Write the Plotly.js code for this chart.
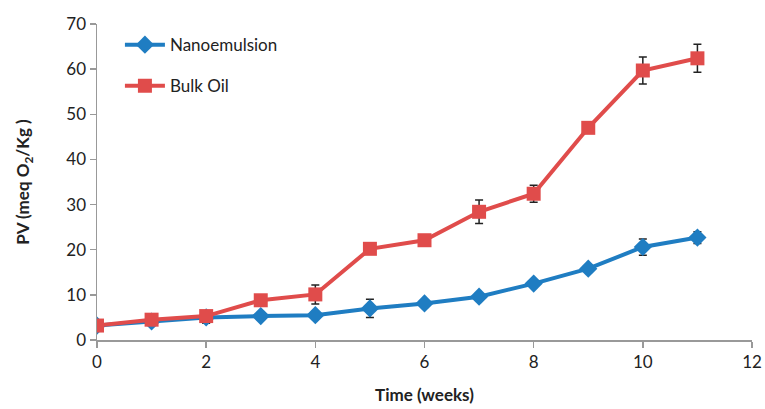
<!DOCTYPE html>
<html><head><meta charset="utf-8">
<script src="https://cdn.plot.ly/plotly-3.0.1.min.js"></script>
<style>body{margin:0;background:#fff}#chart{width:765px;height:409px}</style>
</head><body><div id="chart"></div>
<script>
const weeks = [0,1,2,3,4,5,6,7,8,9,10,11];
const nanoPV = [3.2,4.1,5.0,5.3,5.5,7.0,8.1,9.6,12.5,15.8,20.6,22.7];
const nanoErr = [0.5,0.6,1.3,0.8,0.8,2.0,0.6,0.6,0.8,0.8,1.8,1.3];
const bulkPV = [3.2,4.5,5.3,8.8,10.1,20.2,22.1,28.4,32.4,47.0,59.7,62.4];
const bulkErr = [0.5,0.7,0.7,1.0,2.1,0.6,0.7,2.6,1.9,0.8,3.0,3.1];

const traces = [
 {x:weeks,y:nanoPV,name:'Nanoemulsion',legendgroup:'a',type:'scatter',mode:'lines+markers',
  line:{color:'#1f7dc2',width:4},marker:{symbol:'diamond',size:14,color:'#1f7dc2'},
  error_y:{type:'data',array:nanoErr,visible:true,color:'#222',thickness:1.5,width:4}},
 {x:weeks,y:bulkPV,name:'Bulk Oil',legendgroup:'b',type:'scatter',mode:'lines+markers',
  line:{color:'#e04c4b',width:4},marker:{symbol:'square',size:14,color:'#e04c4b'},
  error_y:{type:'data',array:bulkErr,visible:true,color:'#222',thickness:1.5,width:4}}
];
const font = 'Lato, "Open Sans", sans-serif';
const layout = {
 width:765,height:409,margin:{l:97,r:13,t:24,b:69},
 paper_bgcolor:'#fff',plot_bgcolor:'#fff',
 font:{family:font,size:17,color:'#222'},
 showlegend:true,
 legend:{x:0.035,y:0.99,xanchor:'left',yanchor:'top',bgcolor:'rgba(0,0,0,0)',font:{size:17,color:'#222'},
  traceorder:'grouped',tracegroupgap:16,itemwidth:40},
 xaxis:{range:[0,12],dtick:2,tick0:0,showgrid:false,zeroline:false,showline:true,linecolor:'#999',linewidth:1.5,
  ticks:'outside',ticklen:6,tickcolor:'#999',tickwidth:1.5,
  title:{text:'<b>Time (weeks)</b>',font:{size:17},standoff:18}},
 yaxis:{range:[0,70],dtick:10,tick0:0,showgrid:false,zeroline:false,showline:true,linecolor:'#999',linewidth:1.5,
  ticks:'outside',ticklen:6,tickcolor:'#999',tickwidth:1.5,
  title:{text:'<b>PV (meq O<sub>2</sub>/Kg )</b>',font:{size:17},standoff:32}}
};
Plotly.newPlot('chart',traces,layout,{displayModeBar:false,staticPlot:true});
</script></body></html>
